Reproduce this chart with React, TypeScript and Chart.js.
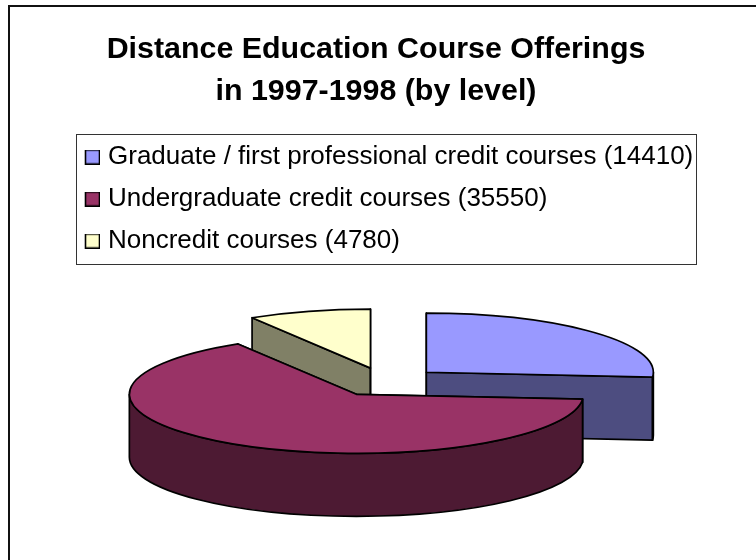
import React, { useEffect, useRef } from "react";
import { Chart, registerables } from "chart.js";

Chart.register(...registerables);

const titleLines = ["Distance Education Course Offerings", "in 1997-1998 (by level)"];
const categories = [
  "Graduate / first professional credit courses (14410)",
  "Undergraduate credit courses (35550)",
  "Noncredit courses (4780)",
];
const courseCounts = [14410, 35550, 4780];
const topColors = ["#9999ff", "#993366", "#ffffcc"];
const sideColors = ["#4d4d80", "#4d1a33", "#808066"];

const FONT = '"Liberation Sans", Arial, sans-serif';
const TILT = 0.26;
const DEPTH = 63;
const EXPLODE = 55.5;
const PAINT_ORDER = [2, 0, 1];

function legendSwatch(color: string) {
  const c = document.createElement("canvas");
  c.width = 20;
  c.height = 15;
  const g = c.getContext("2d")!;
  g.fillStyle = color;
  g.fillRect(5.5, 0.5, 14, 14);
  g.strokeStyle = "#000";
  g.lineWidth = 1.6;
  g.strokeRect(5.5, 0.5, 14, 14);
  return c;
}

const pie3d = {
  id: "pie3d",
  afterLayout(chart: any) {
    const l = chart.legend;
    l.left = 69;
    l.right = 696;
    l.top = 128;
    l.bottom = 265;
    const t = chart.titleBlock;
    t.left = 0;
    t.right = 752;
  },
  beforeDraw(chart: any) {
    const { ctx, width, height } = chart;
    ctx.save();
    ctx.strokeStyle = "#111";
    ctx.lineWidth = 2;
    ctx.beginPath();
    ctx.moveTo(9, height + 5);
    ctx.lineTo(9, 6);
    ctx.lineTo(width + 5, 6);
    ctx.stroke();
    ctx.strokeStyle = "#333";
    ctx.lineWidth = 1;
    ctx.strokeRect(76.5, 134.5, 620, 130);
    ctx.restore();
  },
  beforeDatasetsDraw(chart: any) {
    const { ctx } = chart;
    const arcs = chart.getDatasetMeta(0).data;
    ctx.save();
    ctx.lineWidth = 1.7;
    ctx.strokeStyle = "#000";
    ctx.lineJoin = "round";
    for (const i of PAINT_ORDER) {
      const a = arcs[i];
      const s = a.startAngle;
      const e = a.endAngle;
      const mid = (s + e) / 2;
      const rx = a.outerRadius;
      const ry = rx * TILT;
      const x = a.x + Math.cos(mid) * EXPLODE;
      const y = a.y + Math.sin(mid) * EXPLODE * TILT;
      const rim = (t: number) => [x + rx * Math.cos(t), y + ry * Math.sin(t)];
      ctx.fillStyle = sideColors[i];
      for (const t of [s, e]) {
        const [px, py] = rim(t);
        ctx.beginPath();
        ctx.moveTo(x, y);
        ctx.lineTo(px, py);
        ctx.lineTo(px, py + DEPTH);
        ctx.lineTo(x, y + DEPTH);
        ctx.closePath();
        ctx.fill();
        ctx.stroke();
      }
      for (const turn of [-2, 0, 2]) {
        const lo = Math.max(s, turn * Math.PI);
        const hi = Math.min(e, (turn + 1) * Math.PI);
        if (hi <= lo) continue;
        ctx.beginPath();
        ctx.ellipse(x, y, rx, ry, 0, lo, hi);
        ctx.ellipse(x, y + DEPTH, rx, ry, 0, hi, lo, true);
        ctx.closePath();
        ctx.fill();
        ctx.stroke();
      }
      ctx.fillStyle = topColors[i];
      ctx.beginPath();
      ctx.moveTo(x, y);
      ctx.ellipse(x, y, rx, ry, 0, s, e);
      ctx.closePath();
      ctx.fill();
      ctx.stroke();
    }
    ctx.restore();
    return false;
  },
};

export default function App() {
  const ref = useRef<HTMLCanvasElement>(null);
  useEffect(() => {
    const chart = new Chart(ref.current!, {
      type: "pie",
      data: {
        labels: categories,
        datasets: [{ data: courseCounts, backgroundColor: topColors, borderColor: "#000", borderWidth: 1 }],
      },
      options: {
        responsive: false,
        animation: false,
        radius: 227,
        layout: { padding: { left: 15, right: 0, top: 0, bottom: 54 } },
        plugins: {
          tooltip: { enabled: false },
          title: {
            display: true,
            text: titleLines,
            color: "#000",
            font: { family: FONT, size: 30.4, weight: "bold", lineHeight: 1.365 },
            padding: { top: 29, bottom: 10 },
          },
          legend: {
            display: true,
            position: "top",
            align: "start",
            maxWidth: 627,
            labels: {
              color: "#000",
              font: { family: FONT, size: 26 },
              boxWidth: 10,
              boxHeight: 15,
              padding: 16,
              usePointStyle: true,
              generateLabels: () =>
                categories.map((text, i) => ({
                  text,
                  index: i,
                  fontColor: "#000",
                  pointStyle: legendSwatch(topColors[i]),
                  hidden: false,
                })),
            },
          },
        },
      } as any,
      plugins: [pie3d as any],
    });
    return () => chart.destroy();
  }, []);
  return (
    <div style={{ position: "fixed", left: 0, top: 0, width: 756, height: 560, background: "#fff" }}>
      <canvas ref={ref} width={756} height={560} style={{ display: "block" }} />
    </div>
  );
}
